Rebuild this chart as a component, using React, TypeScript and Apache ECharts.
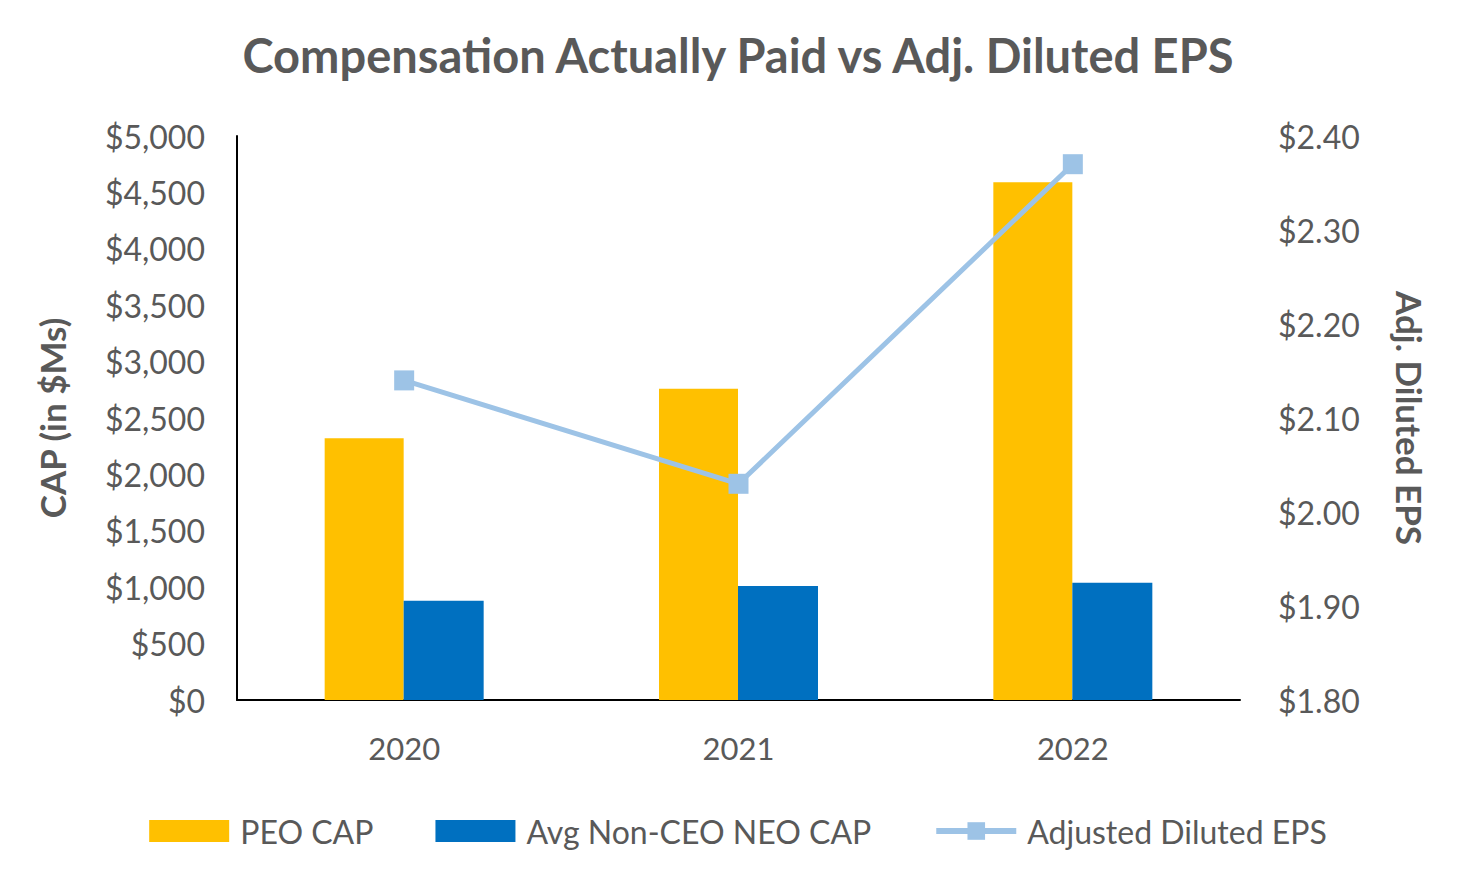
import React, { useEffect, useRef } from "react";
import * as echarts from "echarts";

const years = ["2020", "2021", "2022"];
const peoCap = [2320, 2760, 4590];
const neoCap = [880, 1010, 1040];
const adjEps = [2.14, 2.03, 2.37];

const FONT = "Lato";
const GRAY = "#595959";

export default function App() {
  const ref = useRef<HTMLDivElement>(null);
  useEffect(() => {
    const chart = echarts.init(ref.current!, null, { renderer: "svg" });
    chart.setOption({
      animation: false,
      backgroundColor: "#ffffff",
      textStyle: { fontFamily: FONT, color: GRAY },
      title: {
        text: "Compensation Actually Paid vs Adj. Diluted EPS",
        left: "center",
        top: 26,
        textStyle: { fontFamily: FONT, fontWeight: "bold", fontSize: 47, color: GRAY },
      },
      grid: { left: 237, right: 236, top: 136, bottom: 190 },
      legend: {
        bottom: 38,
        left: "center",
        itemWidth: 80,
        itemHeight: 22,
        itemGap: 62,
        lineStyle: { width: 6 },
        textStyle: { fontFamily: FONT, fontSize: 32, color: GRAY, padding: [0, 0, 0, 6] },
        data: [
          { name: "PEO CAP", icon: "rect" },
          { name: "Avg Non-CEO NEO CAP", icon: "rect" },
          { name: "Adjusted Diluted EPS" },
        ],
      },
      xAxis: {
        type: "category",
        data: years,
        axisLine: { show: true, lineStyle: { color: "#000", width: 2 } },
        axisTick: { show: false },
        axisLabel: { fontFamily: FONT, fontSize: 31, color: GRAY, margin: 32 },
      },
      yAxis: [
        {
          type: "value",
          min: 0,
          max: 5000,
          interval: 500,
          name: "CAP (in $Ms)",
          nameLocation: "middle",
          nameGap: 168,
          nameRotate: 90,
          nameTextStyle: { fontFamily: FONT, fontWeight: "bold", fontSize: 35, color: GRAY },
          axisLine: { show: true, lineStyle: { color: "#000", width: 2 } },
          axisTick: { show: false },
          splitLine: { show: false },
          axisLabel: {
            fontFamily: FONT,
            fontSize: 32,
            color: GRAY,
            margin: 32,
            formatter: (v: number) => "$" + v.toLocaleString("en-US"),
          },
        },
        {
          type: "value",
          min: 1.8,
          max: 2.4,
          interval: 0.1,
          name: "Adj. Diluted EPS",
          nameLocation: "middle",
          nameGap: 152,
          nameRotate: -90,
          nameTextStyle: { fontFamily: FONT, fontWeight: "bold", fontSize: 35, color: GRAY },
          axisLine: { show: false },
          axisTick: { show: false },
          splitLine: { show: false },
          axisLabel: {
            fontFamily: FONT,
            fontSize: 32,
            color: GRAY,
            margin: 38,
            formatter: (v: number) => "$" + v.toFixed(2),
          },
        },
      ],
      series: [
        {
          name: "PEO CAP",
          type: "bar",
          data: peoCap,
          barWidth: 79,
          barGap: "0%",
          itemStyle: { color: "#FFC000" },
        },
        {
          name: "Avg Non-CEO NEO CAP",
          type: "bar",
          data: neoCap,
          barWidth: 80,
          barGap: "0%",
          itemStyle: { color: "#0070C0" },
        },
        {
          name: "Adjusted Diluted EPS",
          type: "line",
          yAxisIndex: 1,
          data: adjEps,
          symbol: "rect",
          symbolSize: 20,
          lineStyle: { color: "#9DC3E6", width: 5 },
          itemStyle: { color: "#9DC3E6" },
        },
      ],
    });
    return () => chart.dispose();
  }, []);
  return (
    <div
      ref={ref}
      style={{ position: "fixed", left: 0, top: 0, width: 1476, height: 890, background: "#fff" }}
    />
  );
}
